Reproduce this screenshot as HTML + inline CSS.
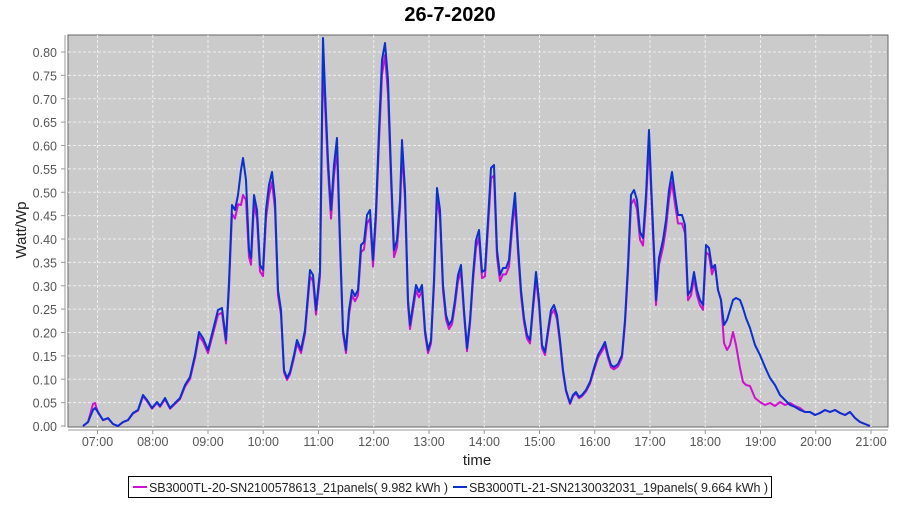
<!DOCTYPE html><html><head><style>body{margin:0;background:#fff;width:900px;height:500px;overflow:hidden}text{font-family:"Liberation Sans",sans-serif}</style></head><body>
<svg id="s" width="900" height="500" xmlns="http://www.w3.org/2000/svg">
<text x="450" y="21" text-anchor="middle" font-size="20" font-weight="bold">26-7-2020</text>
<rect x="68" y="35" width="820" height="392" fill="#cbcbcb" stroke="#666" stroke-width="1"/>
<g id="grid" stroke="#eee" stroke-dasharray="3,2" stroke-width="1"></g>
<line x1="65" y1="35" x2="65" y2="427" stroke="#999"/>
<line x1="68" y1="430" x2="888" y2="430" stroke="#999"/>
<g id="lab" font-size="12.5" fill="#555" style="font-family:'DejaVu Sans',sans-serif"></g>
<text transform="translate(26,230) rotate(-90)" text-anchor="middle" font-size="15" fill="#222">Watt/Wp</text>
<text x="477" y="465" text-anchor="middle" font-size="15" fill="#222">time</text>
<path id="pk" fill="none" stroke="#d010d0" stroke-width="2" stroke-linejoin="round"/>
<path id="bl" fill="none" stroke="#0a30d0" stroke-width="2" stroke-linejoin="round"/>
<rect x="128.5" y="476.5" width="643" height="21" fill="#fff" stroke="#000"/>
<line x1="133" y1="487" x2="147" y2="487" stroke="#d010d0" stroke-width="2"/>
<text x="149" y="492" font-size="12.5" fill="#222" textLength="299" lengthAdjust="spacing">SB3000TL-20-SN2100578613_21panels( 9.982 kWh )</text>
<line x1="453" y1="487" x2="467" y2="487" stroke="#0a30d0" stroke-width="2"/>
<text x="469" y="492" font-size="12.5" fill="#222" textLength="299" lengthAdjust="spacing">SB3000TL-21-SN2130032031_19panels( 9.664 kWh )</text>
</svg>
<script>
var g=document.getElementById('grid'),l=document.getElementById('lab'),ns='http://www.w3.org/2000/svg';
function el(p,t,a,tx){var e=document.createElementNS(ns,t);for(var k in a)e.setAttribute(k,a[k]);if(tx)e.textContent=tx;p.appendChild(e);}
for(var i=0;i<=16;i++){var y=426-i*23.375;if(i>0)el(g,'line',{x1:68,x2:888,y1:y,y2:y});el(l,'text',{x:57,y:y+5,'text-anchor':'end'},(i*0.05).toFixed(2));el(l,'line',{x1:61,x2:65,y1:y,y2:y,stroke:'#999'});}
for(var h=7;h<=21;h++){var x=97.5+(h-7)*55.25;el(g,'line',{x1:x,x2:x,y1:35,y2:427});el(l,'text',{x:x,y:446,'text-anchor':'middle'},(h<10?'0':'')+h+':00');el(l,'line',{x1:x,x2:x,y1:430,y2:434,stroke:'#999'});}
var b=[83,426,88,422,93,410,95,408,98,412,103,420,108,418,113,424,118,426,123,422,128,420,133,413,138,410,143,395,147,400,152,408,157,402,160,406,165,398,170,408,175,403,180,398,185,385,190,377,195,355,199,332,203,338,208,350,213,330,218,310,222,308,226,340,229,282,232,205,235,210,238,195,241,170,243,158,246,180,249,250,251,258,254,195,257,210,260,265,263,270,266,210,269,185,272,172,275,200,278,290,281,310,284,370,287,378,290,372,294,355,297,340,301,350,305,330,310,270,313,275,316,310,320,270,323,38,325,90,328,160,331,210,334,165,337,138,340,240,343,330,346,350,349,310,352,290,355,296,358,290,361,245,364,242,367,215,370,210,373,260,376,210,379,130,382,60,385,43,388,80,391,170,394,250,397,240,400,200,402,140,405,190,408,300,410,325,413,305,416,285,419,292,422,285,425,330,428,350,431,340,434,280,437,188,440,210,443,285,446,315,449,325,452,320,455,300,458,275,461,265,464,310,467,348,470,320,473,275,476,240,479,230,482,272,485,270,488,220,491,168,494,165,497,250,500,275,503,268,506,268,509,260,512,222,515,193,518,245,521,290,524,318,527,335,530,340,533,305,536,272,539,300,542,345,545,352,548,330,551,310,554,305,557,315,560,340,563,370,566,390,570,403,573,395,576,392,579,397,582,395,586,390,590,382,594,368,598,355,602,348,605,342,608,355,611,365,614,367,618,364,622,355,625,320,628,265,631,195,634,190,637,200,640,232,643,238,646,195,649,130,651,180,654,250,656,300,659,258,663,240,666,220,669,190,672,172,675,195,678,215,682,215,685,225,688,295,691,290,694,272,697,290,700,300,703,305,706,245,709,248,712,268,715,265,718,290,721,300,724,325,727,320,730,310,733,300,736,298,740,300,743,308,746,318,750,328,755,345,760,355,765,367,770,378,775,385,780,395,785,400,790,405,795,407,800,410,805,412,810,412,815,415,820,413,825,410,830,412,835,410,840,413,845,415,850,412,855,418,860,422,865,424,870,426];
var over={93:404,95:403,241:205,243:195,246:200,269:195,272:182,323:62,385:55,720:330,721:300,724:343,727:350,730:345,733:332,736:345,740:368,743:382,746:385,750:386,755:398,760:402,765:405,770:403,775:406,780:402,785:405,790:403,795:406,800:408};
var pb='',pp='';for(var i=0;i<b.length;i+=2){var x=b[i],y=b[i+1];pb+=(i?'L':'M')+x+','+y;var yp=over[x]!==undefined?over[x]:(x<715?426-(426-y)*0.96:y);pp+=(i?'L':'M')+x+','+yp;}
document.getElementById('bl').setAttribute('d',pb);document.getElementById('pk').setAttribute('d',pp);
</script></body></html>
